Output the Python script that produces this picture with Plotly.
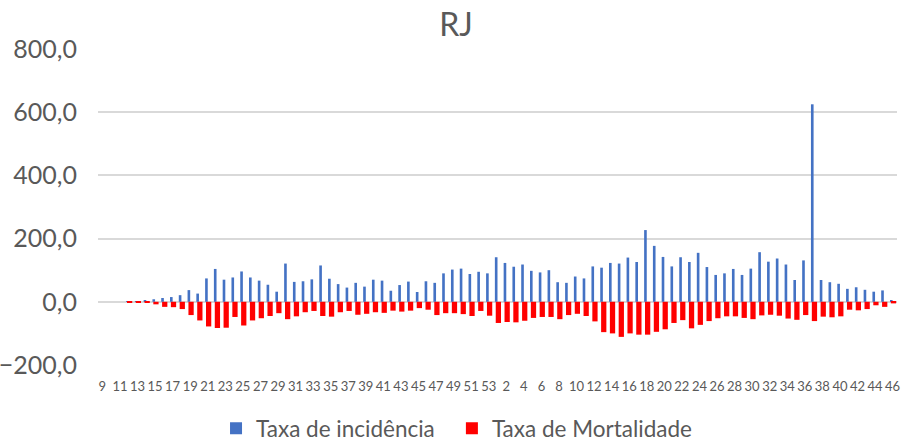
import plotly.graph_objects as go

weeks_2020 = list(range(9, 54))
weeks_2021 = list(range(1, 47))
week_labels = [str(w) for w in weeks_2020 + weeks_2021]

taxa_incidencia = [
    0, 0, 0, 1, 2, 3, 8, 12, 15, 21, 37, 26, 74, 104, 70,
    77, 96, 77, 67, 54, 32, 121, 63, 65, 71, 115, 73, 56, 45, 60,
    48, 70, 67, 35, 53, 64, 31, 65, 60, 90, 102, 105, 88, 95, 90,
    141, 123, 111, 118, 98, 93, 100, 62, 60, 80, 74, 112, 108, 123, 121,
    140, 126, 227, 177, 142, 112, 141, 126, 155, 110, 85, 90, 104, 85, 105,
    157, 127, 137, 118, 69, 131, 625, 69, 62, 57, 41, 46, 38, 32, 36, 3,
]
taxa_mortalidade = [
    0, 0, 0, -1, -2, -3, -8, -16, -17, -23, -42, -59, -78, -83, -82,
    -48, -75, -59, -52, -45, -36, -55, -46, -33, -29, -45, -47, -33, -29, -41,
    -38, -33, -35, -28, -31, -28, -20, -25, -42, -36, -36, -39, -45, -29, -44,
    -67, -64, -65, -60, -51, -48, -48, -55, -42, -38, -45, -62, -96, -100, -111,
    -100, -104, -104, -95, -87, -67, -58, -84, -73, -61, -52, -46, -46, -51, -55,
    -43, -41, -44, -53, -57, -42, -61, -47, -49, -46, -25, -27, -23, -11, -16, -5,
]

x_idx = list(range(len(week_labels)))
tick_vals = x_idx[::2]
tick_text = week_labels[::2]

FONT = "Lato"
GRAY = "#595959"

fig = go.Figure()
fig.add_trace(go.Bar(
    x=x_idx, y=taxa_incidencia, name="Taxa de incidência",
    marker=dict(color="#4472C4", line=dict(width=0)),
    width=0.3, offset=-0.3, legend="legend",
))
fig.add_trace(go.Bar(
    x=x_idx, y=taxa_mortalidade, name="Taxa de Mortalidade",
    marker=dict(color="#FF0000", line=dict(width=0)),
    width=0.6, offset=-0.2, legend="legend2",
))

legend_common = dict(orientation="h", xref="container", xanchor="left",
                     yref="container", y=0.028, yanchor="middle",
                     font=dict(size=22.5, color=GRAY, family=FONT),
                     itemwidth=30, bgcolor="rgba(0,0,0,0)")

fig.update_layout(
    width=902, height=441,
    barmode="overlay",
    separators=",.",
    paper_bgcolor="white", plot_bgcolor="white",
    margin=dict(l=98, r=5, t=49, b=76, autoexpand=False),
    font=dict(family=FONT, color=GRAY),
    title=dict(text="RJ", x=0.5055, xref="container", xanchor="center",
               y=0.943, yref="container", yanchor="middle",
               font=dict(size=32, color=GRAY, family=FONT)),
    showlegend=True,
    legend=dict(x=0.2395, **legend_common),
    legend2=dict(x=0.501, **legend_common),
    xaxis=dict(
        range=[-0.5, len(x_idx) - 0.5], automargin=False,
        tickmode="array", tickvals=tick_vals, ticktext=tick_text,
        tickfont=dict(size=13, color=GRAY, family=FONT),
        showgrid=False, zeroline=False, showline=False, ticks="",
        tickangle=0, ticklabelstandoff=12,
    ),
    yaxis=dict(
        range=[-200, 800], tickmode="array", automargin=False,
        tickvals=[-200, 0, 200, 400, 600, 800],
        tickformat=".1f",
        tickfont=dict(size=25, color=GRAY, family=FONT),
        showgrid=True, gridcolor="#D9D9D9", gridwidth=1.5,
        zeroline=True, zerolinecolor="#D9D9D9", zerolinewidth=1.5,
        showline=False, ticks="", ticklabelstandoff=20,
    ),
)

fig.write_html(
    "out.html",
    config={"displayModeBar": False},
    post_script="document.body.style.margin='0';document.body.style.overflow='hidden';",
)
